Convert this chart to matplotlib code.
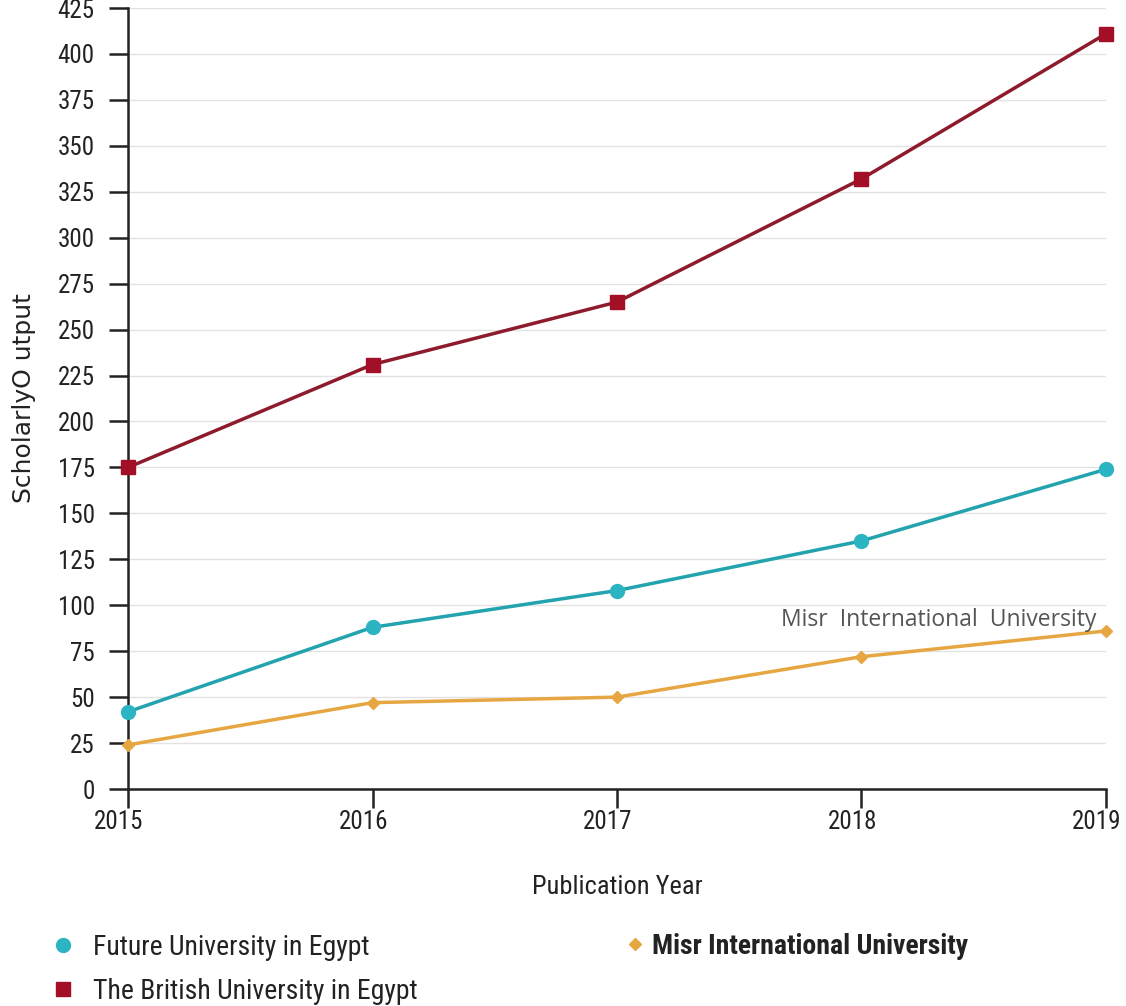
import matplotlib
matplotlib.use("Agg")
import matplotlib.pyplot as plt
from matplotlib.lines import Line2D
import matplotlib.transforms as mtransforms

years = [2015, 2016, 2017, 2018, 2019]
british = [175, 231, 265, 332, 411]
future = [42, 88, 108, 135, 174]
misr = [24, 47, 50, 72, 86]
yticks = list(range(0, 426, 25))

COND = ['Roboto Condensed', 'DejaVu Sans']
plt.rcParams['font.family'] = COND
plt.rcParams['font.stretch'] = 'condensed'

fig = plt.figure(figsize=(11.26, 10.06), dpi=100)
ax = fig.add_axes([0.1137, 0.2157, 0.9822 - 0.1137, 0.992 - 0.2157])

c_brit_line = '#8E1B2C'
c_brit_mark = '#A30F26'
c_fut_line = '#22A3AE'
c_fut_mark = '#2BB5C2'
c_misr = '#E6A742'

ax.plot(years, british, color=c_brit_line, lw=2.5, marker='s', ms=10,
        mfc=c_brit_mark, mec=c_brit_mark, zorder=3, clip_on=False)
ax.plot(years, future, color=c_fut_line, lw=2.5, marker='o', ms=10,
        mfc=c_fut_mark, mec=c_fut_mark, zorder=3, clip_on=False)
ax.plot(years, misr, color=c_misr, lw=2.5, marker='D', ms=6,
        mfc=c_misr, mec=c_misr, zorder=3, clip_on=False)

ax.set_xlim(2015, 2019)
ax.set_ylim(0, 425)
ax.set_yticks(yticks)
ax.set_xticks(years)
ax.set_xticklabels([str(y) for y in years])
ax.grid(axis='y', color='#E2E2E2', lw=1.0)
ax.set_axisbelow(True)
for s in ['top', 'right']:
    ax.spines[s].set_visible(False)
for s in ['left', 'bottom']:
    ax.spines[s].set_linewidth(1.8)
    ax.spines[s].set_color('#222222')
ax.tick_params(axis='both', direction='out', length=14, width=1.8,
               labelsize=18, colors='#222222')
ax.tick_params(axis='y', pad=10)
ax.tick_params(axis='x', pad=1)
off = mtransforms.ScaledTranslation(-9 / 100, 0, fig.dpi_scale_trans)
for lab in ax.get_xticklabels():
    lab.set_transform(lab.get_transform() + off)

ax.set_ylabel('ScholarlyO utput', fontsize=18, color='#222222',
              family='DejaVu Sans', fontstretch='normal')
ax.yaxis.set_label_coords(-0.094, 0.5)
fig.text(0.548, 1 - 887 / 1006, 'Publication Year', ha='center', va='center',
         fontsize=19, color='#222222')

ax.text(2018.96, 92, 'Misr  International  University', ha='right',
        va='center', fontsize=16.5, color='#555555',
        family='Open Sans', fontstretch='normal')

h_fut = Line2D([], [], ls='none', marker='o', ms=10, mfc=c_fut_mark, mec=c_fut_mark)
h_brit = Line2D([], [], ls='none', marker='s', ms=10, mfc=c_brit_mark, mec=c_brit_mark)
h_misr = Line2D([], [], ls='none', marker='D', ms=6, mfc=c_misr, mec=c_misr)

leg1 = fig.legend([h_fut, h_brit],
                  ['Future University in Egypt', 'The British University in Egypt'],
                  loc='upper left', bbox_to_anchor=(0.0335, 1 - 923 / 1006),
                  frameon=False, fontsize=20, handlelength=1.0,
                  handletextpad=0.6, labelspacing=0.6, borderaxespad=0)
for t in leg1.get_texts():
    t.set_color('#222222')
leg2 = fig.legend([h_misr], ['Misr International University'],
                  loc='upper left', bbox_to_anchor=(0.547, 1 - 922 / 1006),
                  frameon=False, handlelength=0.6, borderaxespad=0,
                  handletextpad=0.3, prop={'family': COND, 'weight': 'bold',
                                           'size': 20, 'stretch': 'condensed'})
for t in leg2.get_texts():
    t.set_color('#222222')

fig.savefig('out.png', dpi=100)
